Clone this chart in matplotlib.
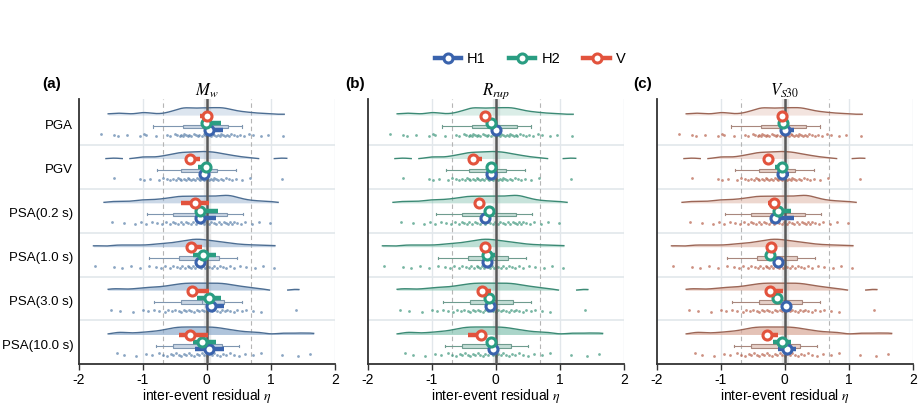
import numpy as np
import matplotlib.pyplot as plt
from matplotlib.lines import Line2D

plt.rcParams['font.family'] = ['Liberation Sans', 'DejaVu Sans']
plt.rcParams['mathtext.fontset'] = 'stix'

ims = ['PGA', 'PGV', 'PSA(0.2 s)', 'PSA(1.0 s)', 'PSA(3.0 s)', 'PSA(10.0 s)']
panel_tags = ['(a)', '(b)', '(c)']
titles = [r'$M_w$', r'$R_{rup}$', r'$V_{S30}$']

# inter-event residuals per IM (same events in all three panels)
eta_pga = [-1.65, -1.45, -1.38, -1.25, -1.05, -0.98, -0.95, -0.80, -0.62, -0.58, -0.50, -0.46,
           -0.42, -0.40, -0.37, -0.35, -0.33, -0.30, -0.27, -0.24, -0.20, -0.17, -0.14, -0.12,
           -0.08, -0.05, -0.02, 0.00, 0.03, 0.06, 0.09, 0.12, 0.15, 0.18, 0.20, 0.23, 0.26,
           0.28, 0.31, 0.34, 0.38, 0.42, 0.47, 0.52, 0.58, 0.66, 0.72, 0.85, 0.95, 1.19]
eta_pgv = [-1.45, -1.05, -0.98, -0.88, -0.75, -0.68, -0.62, -0.57, -0.52, -0.48, -0.45, -0.42,
           -0.40, -0.36, -0.33, -0.30, -0.27, -0.24, -0.21, -0.18, -0.15, -0.12, -0.10, -0.07,
           -0.05, -0.02, 0.01, 0.04, 0.07, 0.10, 0.12, 0.15, 0.18, 0.22, 0.26, 0.30, 0.35,
           0.40, 0.46, 0.55, 0.68, 1.18]
eta_psa02 = [-1.48, -1.30, -1.12, -1.02, -0.95, -0.85, -0.78, -0.70, -0.64, -0.58, -0.53, -0.49,
             -0.45, -0.41, -0.37, -0.33, -0.29, -0.25, -0.21, -0.17, -0.13, -0.09, -0.05, -0.01,
             0.03, 0.07, 0.11, 0.15, 0.19, 0.23, 0.27, 0.30, 0.33, 0.36, 0.39, 0.43, 0.48,
             0.53, 0.60, 0.70, 0.82, 0.99]
eta_psa10 = [-1.74, -1.45, -1.32, -1.18, -1.05, -0.90, -0.80, -0.72, -0.65, -0.58, -0.52, -0.47,
             -0.42, -0.38, -0.34, -0.30, -0.27, -0.24, -0.21, -0.18, -0.15, -0.12, -0.09, -0.06,
             -0.03, 0.00, 0.04, 0.08, 0.12, 0.16, 0.20, 0.25, 0.30, 0.36, 0.43, 0.52, 0.62,
             0.75, 0.88, 1.05]
eta_psa30 = [-1.50, -1.35, -1.15, -1.00, -0.92, -0.82, -0.74, -0.66, -0.60, -0.54, -0.49, -0.44,
             -0.40, -0.36, -0.32, -0.28, -0.24, -0.20, -0.16, -0.12, -0.08, -0.04, 0.00, 0.04,
             0.08, 0.12, 0.16, 0.20, 0.24, 0.28, 0.32, 0.37, 0.42, 0.48, 0.55, 0.62, 0.72,
             0.85, 1.39]
eta_psa100 = [-1.41, -1.30, -1.10, -0.95, -0.85, -0.75, -0.68, -0.62, -0.56, -0.52, -0.48, -0.44,
              -0.40, -0.36, -0.32, -0.28, -0.24, -0.20, -0.16, -0.12, -0.08, -0.04, 0.00, 0.04,
              0.08, 0.12, 0.16, 0.20, 0.25, 0.30, 0.36, 0.42, 0.50, 0.60, 0.72, 0.85, 1.18,
              1.42, 1.62]
eta_all = [eta_pga, eta_pgv, eta_psa02, eta_psa10, eta_psa30, eta_psa100]

# extent of the drawn density curve per IM
kde_min = [-1.54, -1.62, -1.71, -1.77, -1.54, -1.54]
kde_max = [1.21, 1.25, 1.17, 1.07, 1.44, 1.67]

# box stats: whislo, q1, med, q3, whishi
box_lo = [-0.84, -0.78, -0.94, -0.90, -0.82, -0.80]
box_q1 = [-0.375, -0.41, -0.52, -0.44, -0.40, -0.52]
box_med = [0.02, -0.05, -0.05, -0.05, -0.08, -0.05]
box_q3 = [0.33, 0.16, 0.32, 0.19, 0.27, 0.24]
box_hi = [0.55, 0.45, 0.56, 0.47, 0.55, 0.51]

# component mean bias and bar ends, one list per panel (Mw, Rrup, Vs30)
v_mean = [[0.00, -0.26, -0.19, -0.24, -0.23, -0.26],
          [-0.16, -0.36, -0.26, -0.16, -0.22, -0.23],
          [-0.04, -0.26, -0.17, -0.22, -0.23, -0.28]]
v_lo = [[-0.11, -0.26, -0.40, -0.24, -0.23, -0.44],
        [-0.16, -0.36, -0.26, -0.16, -0.22, -0.43],
        [-0.04, -0.26, -0.26, -0.22, -0.23, -0.28]]
v_hi = [[0.00, -0.10, 0.03, -0.07, 0.03, 0.02],
        [-0.16, -0.22, -0.26, -0.16, -0.08, -0.23],
        [-0.04, -0.26, -0.17, -0.22, -0.03, -0.11]]
h2_mean = [[-0.01, -0.01, -0.10, -0.06, 0.04, -0.07],
           [-0.07, -0.08, -0.11, -0.14, -0.11, -0.07],
           [-0.03, -0.04, -0.11, -0.23, -0.12, -0.05]]
h2_lo = [[-0.01, -0.13, -0.10, -0.22, -0.15, -0.21],
         [-0.07, -0.08, -0.11, -0.14, -0.11, -0.07],
         [-0.03, -0.16, -0.11, -0.23, -0.12, -0.18]]
h2_hi = [[0.23, -0.01, 0.17, 0.14, 0.23, 0.15],
         [-0.07, -0.08, -0.11, -0.01, -0.11, -0.07],
         [0.06, -0.04, 0.10, -0.23, -0.12, 0.10]]
h1_mean = [[0.03, -0.04, -0.11, -0.10, 0.07, 0.03],
           [0.00, -0.07, -0.17, -0.14, -0.09, -0.05],
           [0.00, -0.05, -0.15, -0.11, 0.02, 0.03]]
h1_lo = [[0.03, -0.04, -0.11, -0.10, 0.00, -0.18],
         [0.00, -0.07, -0.17, -0.14, -0.09, -0.05],
         [0.00, -0.05, -0.15, -0.11, 0.02, -0.10]]
h1_hi = [[0.25, -0.04, 0.15, -0.02, 0.27, 0.27],
         [0.00, -0.07, -0.17, -0.14, -0.09, -0.05],
         [0.14, 0.06, 0.15, -0.11, 0.02, 0.18]]

c_h1, c_h2, c_v = '#3a63ad', '#2a9d82', '#e2533d'
line_cols = ['#4d6e93', '#3c8a75', '#9c6656']
fill_cols = ['#8eabcc', '#86c4b2', '#d9a898']
dot_cols = ['#5a80aa', '#3f977d', '#b8624d']
box_face = ['#c9d5e3', '#c3ddd5', '#e6d0c8']
box_edge = ['#7f96b0', '#6f9c8f', '#a8877d']

fig = plt.figure(figsize=(9.22, 4.09), dpi=100)
lefts = [0.0854, 0.3988, 0.7123]
grid = np.linspace(-2, 2, 801)
bw = 0.1

for p in range(3):
    ax = fig.add_axes([lefts[p], 0.1093, 0.2777, 0.649])
    ax.axvspan(-0.05, 0.05, color='#e8e8e8', zorder=0)
    for gx in [-1, 1, 2]:
        ax.axvline(gx, color='#e2e7eb', lw=1, zorder=0)
    for gx in [-0.69, 0.69]:
        ax.axvline(gx, color='#b5b5b5', lw=0.8, ls=(0, (4, 3)), zorder=0.5)
    for k in range(5):
        ax.axhline(k + 0.5, color='#e2e7eb', lw=1.2, zorder=0)
    ax.axvline(0, color='#595959', lw=1.8, zorder=3)

    for i in range(6):
        vals = np.array(eta_all[i])
        dens = np.exp(-0.5 * ((grid[:, None] - vals[None, :]) / bw) ** 2).sum(axis=1)
        mask = (dens > 0.45) & (grid >= kde_min[i]) & (grid <= kde_max[i])
        base = i - 0.18
        top = base - dens / dens.max() * 0.17
        alpha = 0.3 + 0.08 * i
        ax.fill_between(grid, base, top, where=mask, color=fill_cols[p], alpha=alpha, lw=0, zorder=1)
        ax.plot(grid, np.where(mask, top, np.nan), color=line_cols[p], lw=1, zorder=1.5)

        stats = [dict(whislo=box_lo[i], q1=box_q1[i], med=box_med[i], q3=box_q3[i],
                      whishi=box_hi[i], fliers=[])]
        ax.bxp(stats, positions=[i + 0.08], orientation='horizontal', widths=0.075,
               patch_artist=True, showfliers=False, manage_ticks=False,
               boxprops=dict(facecolor=box_face[p], edgecolor=box_edge[p], lw=0.8),
               whiskerprops=dict(color=box_edge[p], lw=0.8),
               capprops=dict(color=box_edge[p], lw=0.8),
               medianprops=dict(color=box_edge[p], lw=0.8), capwidths=0.05)

        jit = ((np.arange(len(vals)) * 7) % 5 - 2) * 0.014
        ax.scatter(vals, i + 0.28 + jit, s=4, color=dot_cols[p], alpha=0.7, lw=0, zorder=2)

        comps = [(h1_mean, h1_lo, h1_hi, c_h1, 0.16, 4),
                 (h2_mean, h2_lo, h2_hi, c_h2, 0.0, 5),
                 (v_mean, v_lo, v_hi, c_v, -0.17, 6)]
        for mean, lo, hi, col, off, z in comps:
            y = i + off
            ax.plot([lo[p][i], hi[p][i]], [y, y], color=col, lw=3.2,
                    solid_capstyle='butt', zorder=z)
            ax.plot(mean[p][i], y, 'o', ms=6.5, mfc='white', mec=col, mew=2.2, zorder=z + 0.1)

    ax.set_xlim(-2, 2)
    ax.set_ylim(5.5, -0.55)
    ax.set_xticks([-2, -1, 0, 1, 2])
    ax.set_xticklabels(['-2', '-1', '0', '1', '2'], fontsize=10)
    if p == 0:
        ax.set_yticks(np.arange(6) + 0.04)
        ax.set_yticklabels(ims, fontsize=9.5)
    else:
        ax.set_yticks([])
    ax.tick_params(axis='y', length=0, pad=4)
    ax.tick_params(axis='x', length=4, width=1, color='#333333', pad=2)
    for s in ['top', 'right']:
        ax.spines[s].set_visible(False)
    for s in ['left', 'bottom']:
        ax.spines[s].set_color('#333333')
        ax.spines[s].set_linewidth(1.3)
    ax.set_xlabel(r'inter-event residual $\eta$', fontsize=10, labelpad=0)
    ax.text(0.5, 1.03, titles[p], transform=ax.transAxes, ha='center', va='center', fontsize=12)

tag_x = [52, 355, 643]
for p in range(3):
    fig.text(tag_x[p] / 922, 1 - 84 / 409, panel_tags[p], ha='center', va='center',
             fontsize=11, fontweight='bold')

handles = [Line2D([], [], color=c, lw=3.2, marker='o', ms=6.5, mfc='white', mec=c, mew=2.2)
           for c in [c_h1, c_h2, c_v]]
fig.legend(handles, ['H1', 'H2', 'V'], loc='center', bbox_to_anchor=(0.575, 0.856), ncol=3,
           frameon=False, handlelength=1.8, columnspacing=1.6, handletextpad=0.4, fontsize=10.5)

fig.savefig('out.png', dpi=100)
